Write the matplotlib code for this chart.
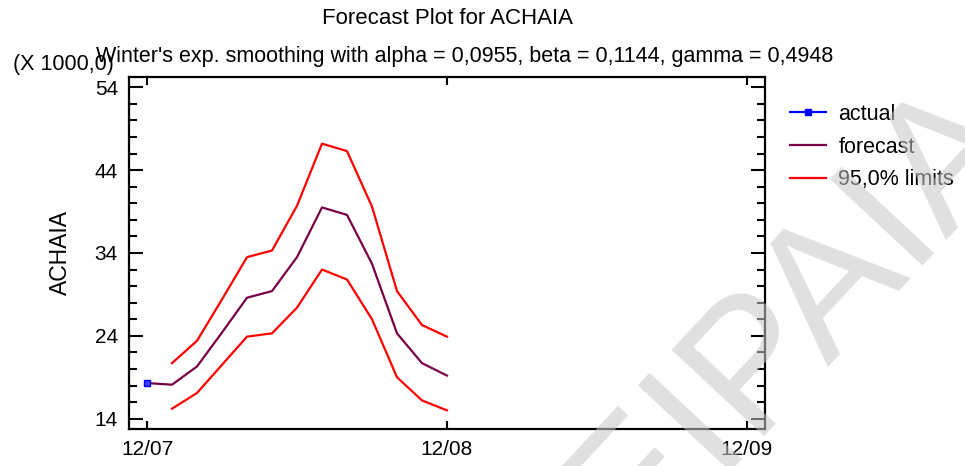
import numpy as np
import matplotlib.pyplot as plt
from matplotlib.ticker import MultipleLocator

plt.rcParams['font.family'] = ['Liberation Sans', 'DejaVu Sans']

# -------------------------------
# data (values in thousands)
# -------------------------------
tick_pos = [0, 12, 24]
tick_labels = ["12/07", "12/08", "12/09"]

actual_x = [0]
actual_y = [18.3]

fc_x = list(range(0, 13))
forecast = [18.3, 18.1, 20.3, 24.4, 28.6, 29.4, 33.5, 39.5, 38.6, 32.7, 24.3, 20.7, 19.2]

lim_x = list(range(1, 13))
upper = [20.7, 23.4, 28.4, 33.5, 34.3, 39.7, 47.2, 46.3, 39.6, 29.4, 25.3, 23.9]
lower = [15.2, 17.1, 20.5, 23.9, 24.3, 27.4, 32.0, 30.8, 26.0, 19.0, 16.2, 15.0]

# -------------------------------
# figure
# -------------------------------
fig = plt.figure(figsize=(9.65, 4.66), dpi=100)
ax = fig.add_axes([0.1337, 0.0794, 0.659, 0.7554])

ax.plot(fc_x, forecast, color="#7a0046", lw=1.6, zorder=3)
ax.plot(lim_x, upper, color="#ff0000", lw=1.6, zorder=3)
ax.plot(lim_x, lower, color="#ff0000", lw=1.6, zorder=3)
ax.plot(actual_x, actual_y, color="#0000ff", lw=1.6, marker="s",
        markersize=4, markerfacecolor="#4040ff", zorder=4)

ax.set_xlim(-0.72, 24.72)
ax.set_ylim(12.75, 55.25)
ax.set_xticks(tick_pos)
ax.set_xticklabels(tick_labels)
ax.set_yticks([14, 24, 34, 44, 54])
ax.yaxis.set_minor_locator(MultipleLocator(2))

ax.tick_params(axis="both", which="both", direction="in", labelsize=15,
               top=True, right=True, width=1.5, colors="black")
ax.tick_params(axis="y", which="major", length=10, pad=8)
ax.tick_params(axis="y", which="minor", length=5.5)
ax.tick_params(axis="x", which="major", length=5.5, pad=8)
for s in ax.spines.values():
    s.set_linewidth(1.6)

ax.set_ylabel("ACHAIA", fontsize=16.5, labelpad=16)

# titles
fig.text(0.464, 0.961, "Forecast Plot for ACHAIA", ha="center", va="center", fontsize=16)
fig.text(0.481, 0.878, "Winter's exp. smoothing with alpha = 0,0955, beta = 0,1144, gamma = 0,4948",
         ha="center", va="center", fontsize=15.5)
fig.text(0.066, 0.862, "(X 1000,0)", ha="center", va="center", fontsize=15.5)

# legend
handles = [
    plt.Line2D([], [], color="#0000ff", lw=1.6, marker="s", markersize=4),
    plt.Line2D([], [], color="#7a0046", lw=1.6),
    plt.Line2D([], [], color="#ff0000", lw=1.6),
]
fig.legend(handles, ["actual", "forecast", "95,0% limits"], loc="upper left",
           bbox_to_anchor=(0.799, 0.819), frameon=False, fontsize=15.5,
           handlelength=1.67, handletextpad=0.56, labelspacing=0.55, numpoints=1)

# watermark
fig.text(1.031, 0.745, "ΠΑΝΕΠΙΣΤΗΜΙΟ ΠΕΙΡΑΙΑ", rotation=47, fontsize=132,
         color="#c8c8c8", alpha=0.56, ha="right", va="center",
         rotation_mode="anchor", zorder=10)

fig.savefig("out.png", dpi=100)
